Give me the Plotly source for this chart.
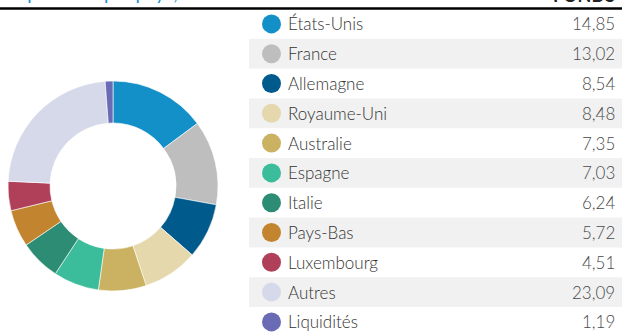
import plotly.graph_objects as go

# Répartition géographique du fonds (% de l'actif net)
pays = ["États-Unis", "France", "Allemagne", "Royaume-Uni", "Australie",
        "Espagne", "Italie", "Pays-Bas", "Luxembourg", "Autres", "Liquidités"]
poids = [14.85, 13.02, 8.54, 8.48, 7.35, 7.03, 6.24, 5.72, 4.51, 23.09, 1.19]
couleurs = ["#1490c8", "#bebebe", "#005a8c", "#e5d8ad", "#cbb262",
            "#3bbd9b", "#2d8d74", "#c2842e", "#b03f5a", "#d6d9ea", "#6a6bb5"]

W, H = 622, 332
ROW_TOP, ROW_H = 9, 29.8
TXT = "#333333"
FONT = "Lato"

def fmt(v):
    return f"{v:.2f}".replace(".", ",")

fig = go.Figure()

# Donut
fig.add_trace(go.Pie(
    labels=pays, values=poids, sort=False, direction="clockwise", rotation=0,
    hole=0.6, textinfo="none", hoverinfo="label+value",
    marker=dict(colors=couleurs, line=dict(color="white", width=0.6)),
    domain=dict(x=[8 / W, 218 / W], y=[(H - 291) / H, (H - 81) / H]),
    showlegend=False,
))

# Légende sous forme de tableau
centres = [ROW_TOP + ROW_H * (i + 0.5) for i in range(len(pays))]
fig.add_trace(go.Scatter(
    x=[271.5] * len(pays), y=centres, mode="markers",
    marker=dict(size=19, color=couleurs, line=dict(width=0)),
    hoverinfo="skip", showlegend=False, xaxis="x", yaxis="y",
))

shapes = []
for i in range(len(pays)):
    if i % 2 == 1:
        shapes.append(dict(type="rect", xref="x", yref="y", layer="below",
                           x0=249, x1=W, y0=ROW_TOP + ROW_H * i, y1=ROW_TOP + ROW_H * (i + 1),
                           fillcolor="#f1f1f1", line=dict(width=0)))
shapes.append(dict(type="line", xref="x", yref="y", x0=0, x1=W, y0=8.5, y1=8.5,
                   line=dict(color="black", width=2.5)))

annotations = []
for i, (p, v) in enumerate(zip(pays, poids)):
    annotations.append(dict(x=286, y=centres[i], xref="x", yref="y", text=p,
                            xanchor="left", yanchor="middle", showarrow=False,
                            font=dict(family=FONT, size=17, color=TXT, weight=300)))
    annotations.append(dict(x=617, y=centres[i], xref="x", yref="y", text=fmt(v),
                            xanchor="right", yanchor="middle", showarrow=False,
                            font=dict(family=FONT, size=17, color="#4a4a4a", weight=300)))

# En-tête (titre et colonne)
annotations.append(dict(x=4, y=6, xref="x", yref="y", text="Répartition par pays, en % de l'actif net",
                        xanchor="left", yanchor="bottom", showarrow=False,
                        font=dict(family=FONT, size=19, color="#1490c8")))
annotations.append(dict(x=617, y=8, xref="x", yref="y", text="<b>FONDS</b>",
                        xanchor="right", yanchor="bottom", showarrow=False,
                        font=dict(family=FONT, size=18, color="#222222")))

fig.update_layout(
    width=W, height=H, margin=dict(l=0, r=0, t=0, b=0),
    paper_bgcolor="white", plot_bgcolor="rgba(0,0,0,0)",
    xaxis=dict(range=[0, W], visible=False, fixedrange=True),
    yaxis=dict(range=[H, 0], visible=False, fixedrange=True),
    shapes=shapes, annotations=annotations,
)

fig.write_html("out.html")
